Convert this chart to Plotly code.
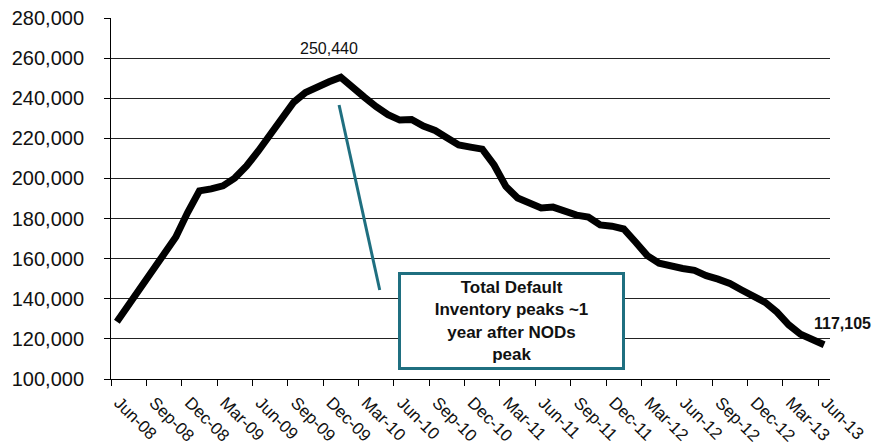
import pandas as pd
import plotly.graph_objects as go

# Monthly total default inventory, Jun-08 through Jun-13
months = pd.date_range("2008-06-01", "2013-06-01", freq="MS").strftime("%b-%y").tolist()
inventory = [
    128500, 136900, 145000, 153300, 161300, 170800, 183000,
    193800, 194800, 196300, 200200, 206200, 213700, 222000, 229300, 238000, 242800, 245800, 248200,
    250440, 246000, 240500, 235800, 231800, 229100, 229400, 226100, 223900, 220300, 216700, 215600,
    214600, 206700, 196000, 190200, 187600, 185300, 185700, 183700, 181700, 180700, 176800, 176200,
    174800, 168300, 161500, 157700, 156200, 155100, 154200, 151500, 149800, 147600, 144400, 141300,
    138200, 133400, 127000, 122300, 119700, 117105,
]
quarter_labels = [
    "Jun-08", "Sep-08", "Dec-08", "Mar-09", "Jun-09", "Sep-09", "Dec-09", "Mar-10",
    "Jun-10", "Sep-10", "Dec-10", "Mar-11", "Jun-11", "Sep-11", "Dec-11", "Mar-12",
    "Jun-12", "Sep-12", "Dec-12", "Mar-13", "Jun-13",
]
callout_text = "Total Default<br>Inventory peaks ~1<br>year after NODs<br>peak"

FONT = "Arial, Liberation Sans, sans-serif"
TEAL = "#1F6F80"

pos = list(range(len(months)))
peak_i = max(pos, key=lambda i: inventory[i])
last_i = pos[-1]

fig = go.Figure()
fig.add_trace(go.Scatter(
    x=pos, y=inventory, mode="lines",
    line=dict(color="black", width=7),
    text=months, hoverinfo="text+y",
    showlegend=False,
))

# teal pointer from the callout box toward the peak
fig.add_shape(type="line", xref="x", yref="y",
              x0=18.85, y0=236600, x1=22.3, y1=144400,
              line=dict(color=TEAL, width=3))

fig.add_annotation(x=peak_i, y=inventory[peak_i], text=f"{inventory[peak_i]:,}",
                   showarrow=False, xshift=-12, yshift=29,
                   font=dict(family=FONT, size=16, color="#111"))
fig.add_annotation(x=last_i, y=inventory[last_i], text=f"<b>{inventory[last_i]:,}</b>",
                   showarrow=False, xshift=18, yshift=21,
                   font=dict(family=FONT, size=16, color="#111"))
fig.add_annotation(xref="paper", yref="paper", x=0.557, y=0.1607,
                   xanchor="center", yanchor="middle",
                   text=f"<b>{callout_text}</b>", showarrow=False,
                   width=221, height=92, borderpad=0,
                   bordercolor=TEAL, borderwidth=3, bgcolor="white",
                   font=dict(family=FONT, size=17, color="#111"))

fig.update_xaxes(
    range=[-0.5, len(months) - 0.5],
    tickmode="array",
    tickvals=[3 * k - 0.5 for k in range(len(quarter_labels))],
    ticktext=quarter_labels,
    tickangle=45,
    ticks="outside", ticklen=6, tickcolor="black", tickwidth=1,
    ticklabelshift=8,
    showline=True, linecolor="black", linewidth=1,
    showgrid=False, zeroline=False, automargin=False,
    tickfont=dict(family=FONT, size=17, color="#111"),
)
fig.update_yaxes(
    range=[100000, 280000],
    dtick=20000,
    tickformat=",d",
    ticks="outside", ticklen=6, tickcolor="black", tickwidth=1,
    ticklabelstandoff=16,
    showline=True, linecolor="black", linewidth=1,
    showgrid=True, gridcolor="#222", gridwidth=1,
    zeroline=False, automargin=False,
    tickfont=dict(family=FONT, size=20, color="#111"),
)
fig.update_layout(
    width=873, height=445,
    margin=dict(l=111, r=43, t=18, b=66),
    paper_bgcolor="white", plot_bgcolor="white",
)

fig.write_html("out.html")
